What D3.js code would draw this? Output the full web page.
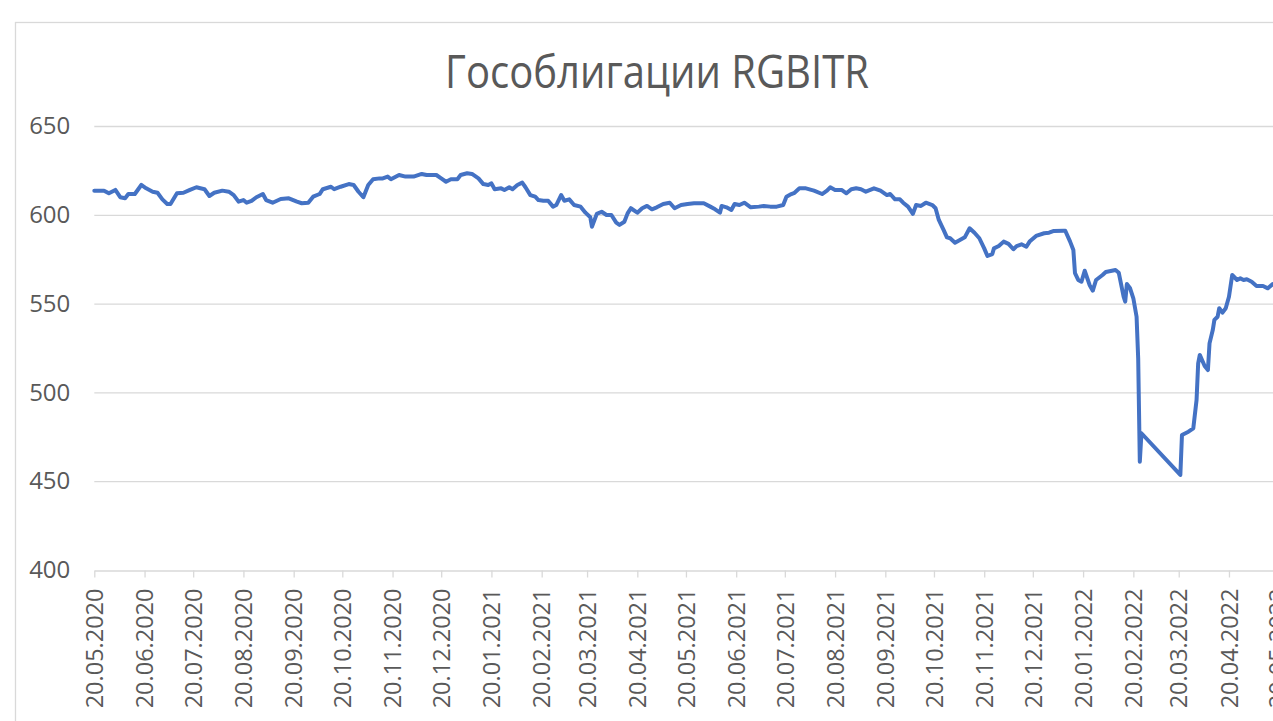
<!DOCTYPE html>
<html>
<head>
<meta charset="utf-8">
<script src="https://cdn.jsdelivr.net/npm/d3@7"></script>
<style>
  html, body { margin: 0; padding: 0; background: #ffffff; }
  svg { display: block; }
</style>
</head>
<body>
<div id="chart"></div>
<script>
const title = "Гособлигации RGBITR";

const dates = [
"2020-05-20","2020-05-26","2020-05-29","2020-06-02","2020-06-05","2020-06-08","2020-06-10","2020-06-14","2020-06-18","2020-06-21",
"2020-06-25","2020-06-28","2020-07-01","2020-07-04","2020-07-06","2020-07-10","2020-07-14","2020-07-18","2020-07-22","2020-07-27",
"2020-07-30","2020-08-02","2020-08-07","2020-08-11","2020-08-14","2020-08-17","2020-08-20","2020-08-22","2020-08-25","2020-08-28",
"2020-09-01","2020-09-03","2020-09-07","2020-09-12","2020-09-17","2020-09-22","2020-09-25","2020-09-29","2020-10-02","2020-10-06",
"2020-10-08","2020-10-13","2020-10-15","2020-10-19","2020-10-24","2020-10-27","2020-10-30","2020-11-02","2020-11-05","2020-11-08",
"2020-11-12","2020-11-14","2020-11-17","2020-11-19","2020-11-24","2020-11-28","2020-12-03","2020-12-08","2020-12-11","2020-12-17",
"2020-12-20","2020-12-23","2020-12-26","2020-12-30","2021-01-01","2021-01-05","2021-01-08","2021-01-12","2021-01-15","2021-01-18",
"2021-01-20","2021-01-22","2021-01-26","2021-01-28","2021-01-31","2021-02-02","2021-02-05","2021-02-08","2021-02-10","2021-02-13",
"2021-02-16","2021-02-18","2021-02-21","2021-02-24","2021-02-27","2021-03-01","2021-03-04","2021-03-06","2021-03-09","2021-03-12",
"2021-03-16","2021-03-19","2021-03-22","2021-03-23","2021-03-26","2021-03-29","2021-04-01","2021-04-04","2021-04-07","2021-04-09",
"2021-04-12","2021-04-14","2021-04-16","2021-04-20","2021-04-23","2021-04-26","2021-04-29","2021-05-02","2021-05-06","2021-05-10",
"2021-05-13","2021-05-17","2021-05-21","2021-05-25","2021-05-31","2021-06-04","2021-06-07","2021-06-10","2021-06-11","2021-06-14",
"2021-06-17","2021-06-19","2021-06-22","2021-06-25","2021-06-29","2021-07-04","2021-07-07","2021-07-11","2021-07-15","2021-07-19",
"2021-07-21","2021-07-24","2021-07-26","2021-07-29","2021-08-02","2021-08-07","2021-08-12","2021-08-15","2021-08-17","2021-08-20",
"2021-08-24","2021-08-27","2021-08-30","2021-09-02","2021-09-05","2021-09-08","2021-09-13","2021-09-17","2021-09-21","2021-09-23",
"2021-09-26","2021-09-29","2021-10-01","2021-10-04","2021-10-07","2021-10-09","2021-10-12","2021-10-15","2021-10-19","2021-10-21",
"2021-10-23","2021-10-26","2021-10-28","2021-10-30","2021-11-02","2021-11-05","2021-11-08","2021-11-11","2021-11-14","2021-11-17",
"2021-11-20","2021-11-22","2021-11-25","2021-11-26","2021-11-29","2021-12-02","2021-12-05","2021-12-08","2021-12-10","2021-12-13",
"2021-12-16","2021-12-18","2021-12-22","2021-12-27","2021-12-30","2022-01-02","2022-01-08","2022-01-09","2022-01-12","2022-01-14",
"2022-01-15","2022-01-17","2022-01-19","2022-01-21","2022-01-24","2022-01-26","2022-01-28","2022-02-01","2022-02-03","2022-02-09",
"2022-02-11","2022-02-14","2022-02-15","2022-02-16","2022-02-18","2022-02-20","2022-02-22","2022-02-23","2022-02-24","2022-02-25",
"2022-03-21","2022-03-22","2022-03-26","2022-03-29","2022-03-31","2022-04-01","2022-04-02","2022-04-05","2022-04-07","2022-04-08",
"2022-04-10","2022-04-11","2022-04-13","2022-04-14","2022-04-16","2022-04-18","2022-04-20","2022-04-22","2022-04-25","2022-04-27",
"2022-04-29","2022-05-01","2022-05-04","2022-05-07","2022-05-11","2022-05-14","2022-05-17","2022-05-19"
];

const values = [
613.6,613.6,612.1,614.0,609.9,609.3,611.7,611.7,616.8,614.9,
613.0,612.4,608.7,606.1,606.1,612.1,612.4,614.0,615.5,614.4,
610.6,612.4,613.6,613.0,611.1,607.4,608.3,606.8,607.8,609.9,
611.7,608.3,606.8,608.9,609.3,607.4,606.5,606.8,610.2,611.7,
614.4,615.8,614.4,615.8,617.3,616.8,613.0,609.9,616.8,620.0,
620.5,620.5,621.5,620.0,622.4,621.5,621.5,623.0,622.4,622.4,
620.5,618.6,620.0,620.0,622.4,623.4,623.0,620.5,617.3,616.8,
617.7,614.4,614.9,614.0,615.5,614.4,616.8,618.1,615.5,611.1,
610.2,608.3,607.9,607.9,604.6,605.5,611.1,607.9,608.7,605.5,
604.6,601.2,598.6,593.3,600.5,601.7,599.9,599.9,595.6,594.3,
596.1,600.8,603.7,601.2,603.7,605.0,603.1,604.2,606.1,606.8,
603.7,605.5,606.1,606.5,606.5,604.6,603.1,601.2,605.0,604.2,
602.7,606.1,605.5,606.8,604.2,604.6,605.0,604.6,604.6,605.5,
610.2,611.7,612.4,614.9,614.9,613.6,611.7,613.6,615.5,614.0,
614.0,612.1,614.4,614.9,614.4,613.0,614.9,613.6,611.1,611.7,
608.7,608.7,606.8,604.6,600.5,605.5,605.0,606.8,605.5,603.7,
597.1,591.4,587.3,586.8,584.3,585.8,587.3,592.4,589.9,586.8,
581.1,576.8,577.9,581.1,582.4,584.9,583.6,580.6,582.4,583.4,
582.0,584.9,588.1,589.6,589.9,590.9,591.0,591.0,584.9,580.2,
567.1,563.3,562.3,568.5,560.5,557.3,563.3,566.1,567.8,568.9,
567.4,553.9,551.1,561.0,558.6,553.0,542.6,519.0,461.0,477.0,
453.5,476.0,477.9,479.8,495.7,516.4,521.1,514.9,512.6,527.6,
535.1,540.8,542.6,547.4,544.9,547.4,553.9,566.1,563.3,564.2,
563.3,563.7,562.3,559.9,559.9,558.6,561.0,560.5
];

const yTicks = [400, 450, 500, 550, 600, 650];
const xTickLabels = [
"20.05.2020","20.06.2020","20.07.2020","20.08.2020","20.09.2020","20.10.2020","20.11.2020","20.12.2020",
"20.01.2021","20.02.2021","20.03.2021","20.04.2021","20.05.2021","20.06.2021","20.07.2021","20.08.2021",
"20.09.2021","20.10.2021","20.11.2021","20.12.2021","20.01.2022","20.02.2022","20.03.2022","20.04.2022","20.05.2022"
];

const W = 1273, H = 721;
const parseISO = d3.utcParse("%Y-%m-%d");
const parseLbl = d3.utcParse("%d.%m.%Y");
const fmtLbl = d3.utcFormat("%d.%m.%Y");

const data = dates.map((d, i) => ({ date: parseISO(d), value: values[i] }));
const tickDates = xTickLabels.map(parseLbl);

const x = d3.scaleUtc()
  .domain([tickDates[0], tickDates[tickDates.length - 1]])
  .range([94.3, 1277.6]);
const y = d3.scaleLinear().domain([400, 650]).range([570, 126]);

const svg = d3.select("#chart").append("svg")
  .attr("width", W).attr("height", H)
  .style("font-family", "'Open Sans', 'DejaVu Sans', sans-serif");

svg.append("rect").attr("width", W).attr("height", H).attr("fill", "#ffffff");

// chart area border
svg.append("rect")
  .attr("x", 15.5).attr("y", 22.5)
  .attr("width", 1400).attr("height", 900)
  .attr("fill", "#ffffff").attr("stroke", "#d9d9d9").attr("stroke-width", 1.3);

// title
svg.append("text")
  .attr("transform", "translate(657,88) scale(0.89,1)")
  .attr("text-anchor", "middle")
  .attr("font-size", 45)
  .attr("fill", "#595959")
  .text(title);

// gridlines
svg.append("g")
  .selectAll("line")
  .data(yTicks.filter(v => v !== 400))
  .join("line")
  .attr("x1", x.range()[0]).attr("x2", x.range()[1])
  .attr("y1", d => y(d) + 0.5).attr("y2", d => y(d) + 0.5)
  .attr("stroke", "#d9d9d9").attr("stroke-width", 1.3);

// y axis labels
const yAxis = d3.axisLeft(y).tickValues(yTicks).tickSize(0).tickPadding(24);
const gy = svg.append("g").attr("transform", `translate(${x.range()[0]},0)`).call(yAxis);
gy.select(".domain").remove();
gy.selectAll("text")
  .attr("font-size", 24)
  .attr("fill", "#595959")
  .attr("font-family", "'Open Sans', sans-serif");

// x axis
const xAxis = d3.axisBottom(x).tickValues(tickDates).tickFormat(fmtLbl).tickSize(7).tickSizeOuter(0);
const gx = svg.append("g").attr("transform", "translate(0,570.5)").call(xAxis);
gx.select(".domain").attr("stroke", "#d9d9d9").attr("stroke-width", 1.3);
gx.selectAll(".tick line").attr("stroke", "#d9d9d9").attr("stroke-width", 1.3);
gx.selectAll("text")
  .attr("font-size", 23.5)
  .attr("fill", "#595959")
  .attr("font-family", "'Open Sans', sans-serif")
  .attr("text-anchor", "end")
  .attr("transform", "rotate(-90)")
  .attr("x", -18)
  .attr("y", 0)
  .attr("dy", "0.35em");

// line
const line = d3.line().x(d => x(d.date)).y(d => y(d.value));
svg.append("path")
  .datum(data)
  .attr("d", line)
  .attr("fill", "none")
  .attr("stroke", "#4472c4")
  .attr("stroke-width", 4)
  .attr("stroke-linejoin", "round")
  .attr("stroke-linecap", "round");
</script>
</body>
</html>
